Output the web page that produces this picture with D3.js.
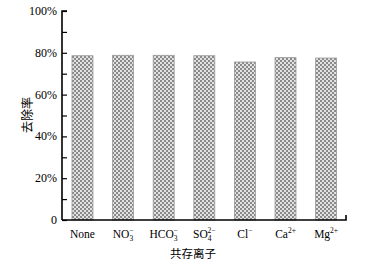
<!DOCTYPE html>
<html><head><meta charset="utf-8">
<script src="https://cdn.jsdelivr.net/npm/d3@7"></script>
<style>body{margin:0;background:#fff}svg{display:block}</style>
</head><body>
<script>
const categories = ["None","NO3","HCO3","SO4","Cl","Ca","Mg"];
const labelParts = [
  {base:"None"},
  {base:"NO", sub:"3", sup:"−"},
  {base:"HCO", sub:"3", sup:"−"},
  {base:"SO", sub:"4", sup:"2−"},
  {base:"Cl", sup:"−"},
  {base:"Ca", sup:"2+"},
  {base:"Mg", sup:"2+"}
];
const values = [78.6, 78.8, 78.8, 78.6, 75.6, 77.7, 77.5];
const yTicks = [0,20,40,60,80,100];
const yTickLabels = ["0","20%","40%","60%","80%","100%"];

const W=366,H=269;
const svg=d3.select("body").append("svg").attr("width",W).attr("height",H);
const defs=svg.append("defs");
const pat=defs.append("pattern").attr("id","chk").attr("patternUnits","userSpaceOnUse").attr("width",4).attr("height",4);
pat.append("rect").attr("width",4).attr("height",4).attr("fill","#e2e2e2");
pat.append("rect").attr("width",2).attr("height",2).attr("fill","#8a8a8a");
pat.append("rect").attr("x",2).attr("y",2).attr("width",2).attr("height",2).attr("fill","#8a8a8a");

const x0=62,x1=346,yTop=11,yBot=220;
const x=d3.scaleBand().domain(categories).range([62,346.6]).paddingInner(0.483).paddingOuter(0.246);
const y=d3.scaleLinear().domain([0,100]).range([yBot,yTop]);

svg.append("g").selectAll("rect").data(values).join("rect")
  .attr("x",(d,i)=>x(categories[i]))
  .attr("width",x.bandwidth())
  .attr("y",d=>y(d))
  .attr("height",d=>yBot-y(d))
  .attr("fill","url(#chk)")
  .attr("stroke","#999").attr("stroke-width",0.8);

const font="'Liberation Serif','Times New Roman',serif";
// y axis
const ya=d3.axisRight(y).tickValues(d3.range(0,101,10)).tickSize(5).tickFormat("");
const gy=svg.append("g").attr("transform",`translate(${x0},0)`).call(ya);
gy.select(".domain").attr("stroke","#000").attr("stroke-width",1.6).attr("d",`M5,${yTop}H0V${yBot}`);
gy.selectAll(".tick line").attr("stroke","#000").attr("stroke-width",1.2);
svg.append("g").selectAll("text").data(yTicks).join("text")
  .attr("x",57).attr("y",d=>y(d)+4).attr("text-anchor","end")
  .attr("font-family",font).attr("font-size",12).attr("fill","#000")
  .text((d,i)=>yTickLabels[i]);
// x axis line
svg.append("path").attr("d",`M${x0},${yBot}H${x1}V${yBot-5}`).attr("stroke","#000").attr("stroke-width",1.6).attr("fill","none");

// x labels
const xl=svg.append("g").attr("font-family",font).attr("font-size",11.5).attr("fill","#000");
labelParts.forEach((p,i)=>{
  const cx=x(categories[i])+x.bandwidth()/2;
  const t=xl.append("text").attr("x",cx).attr("y",238).attr("text-anchor","middle");
  t.append("tspan").text(p.base);
  if(p.sub && p.sup){
    t.append("tspan").attr("font-size",7.5).attr("dy",2.5).text(p.sub);
    t.append("tspan").attr("font-size",7.5).attr("dx",-4).attr("dy",-7.5).text(p.sup);
  } else if(p.sup){
    t.append("tspan").attr("font-size",7.5).attr("dy",-5).text(p.sup);
  }
});

svg.append("text").attr("x",193).attr("y",258).attr("text-anchor","middle")
  .attr("font-family","'Noto Sans CJK SC',sans-serif").attr("font-size",11.5).text("共存离子");
svg.append("text").attr("transform","translate(32,115) rotate(-90)").attr("text-anchor","middle")
  .attr("font-family","'Noto Sans CJK SC',sans-serif").attr("font-size",12).text("去除率");
</script>
</body></html>
